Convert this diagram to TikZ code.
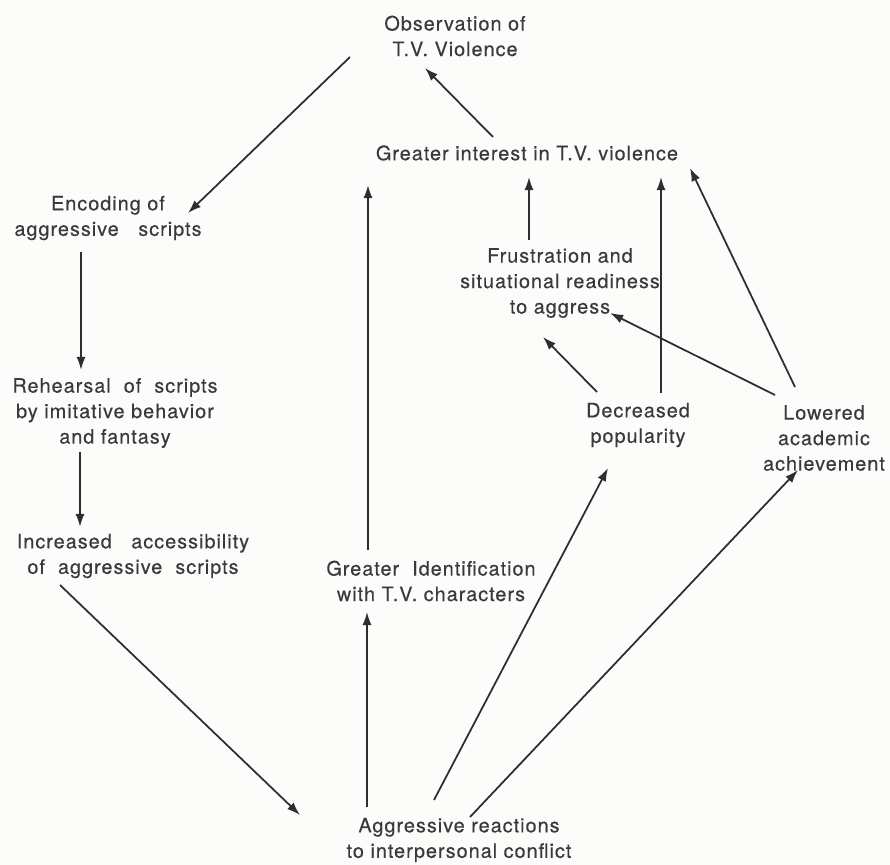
\documentclass[tikz,border=0pt]{standalone}
\usepackage{fontspec}
\setmainfont[LetterSpace=5,FakeBold=0.3]{TeX Gyre Heros}
\usetikzlibrary{arrows.meta}
\definecolor{ink}{HTML}{3A3A3A}
\definecolor{lineink}{HTML}{2E2E2E}
\definecolor{paper}{HTML}{FCFCFA}
\begin{document}
\begin{tikzpicture}[x=0.02cm,y=-0.02cm,
  lbl/.style={align=center, font=\fontsize{11.3}{14.5}\selectfont, text=ink, inner sep=0pt},
  arr/.style={draw=lineink, line width=1pt, -{Latex[length=7.5pt,width=5.2pt]}}]
\fill[paper] (0,0) rectangle (890,865);
\useasboundingbox (0,0) rectangle (890,865);
% nodes
\node[lbl] (obs) at (455,36) {Observation of\\T.V. Violence};
\node[lbl] (gi)  at (527,153) {Greater interest in T.V. violence};
\node[lbl] (enc) at (108,218) {Encoding of\\aggressive\ \ \ scripts};
\node[lbl] (fru) at (560,283) {Frustration and\\situational readiness\\to aggress};
\node[lbl] (reh) at (115,413) {Rehearsal\ \ of\ \ scripts\\by imitative behavior\\and fantasy};
\node[lbl] (dec) at (638,425) {Decreased\\popularity};
\node[lbl] (low) at (824,438) {Lowered\\academic\\achievement};
\node[lbl] (inc) at (133,556) {Increased\ \ \ accessibility\\of\ \ aggressive\ \ scripts};
\node[lbl] (gid) at (431,581) {Greater\ \ Identification\\with T.V. characters};
\node[lbl] (agg) at (459,840) {Aggressive reactions\\to interpersonal conflict};
% connectors
\draw[arr] ([shift={(350-455,57-36)}]obs.center) -- ([shift={(188-108,213-218)}]enc.center);
\draw[arr] ([shift={(493-527,137-153)}]gi.center) -- ([shift={(425-455,68-36)}]obs.center);
\draw[arr] ([shift={(81-108,252-218)}]enc.center) -- ([shift={(81-115,370-413)}]reh.center);
\draw[arr] ([shift={(80-115,452-413)}]reh.center) -- ([shift={(80-133,527-556)}]inc.center);
\draw[arr] ([shift={(60-133,585-556)}]inc.center) -- ([shift={(300-459,815-840)}]agg.center);
\draw[arr] ([shift={(367-459,807-840)}]agg.center) -- ([shift={(367-431,612-581)}]gid.center);
\draw[arr] ([shift={(368-431,550-581)}]gid.center) -- ([shift={(368-527,185-153)}]gi.center);
\draw[arr] ([shift={(529-560,240-283)}]fru.center) -- ([shift={(529-527,177-153)}]gi.center);
\draw[arr] ([shift={(661-638,393-425)}]dec.center) -- ([shift={(661-527,177-153)}]gi.center);
\draw[arr] ([shift={(795-824,387-438)}]low.center) -- ([shift={(690-527,168-153)}]gi.center);
\draw[arr] ([shift={(597-638,392-425)}]dec.center) -- ([shift={(543-560,337-283)}]fru.center);
\draw[arr] ([shift={(775-824,395-438)}]low.center) -- ([shift={(610-560,313-283)}]fru.center);
\draw[arr] ([shift={(434-459,800-840)}]agg.center) -- ([shift={(608-638,468-425)}]dec.center);
\draw[arr] ([shift={(470-459,817-840)}]agg.center) -- ([shift={(798-824,470-438)}]low.center);
\end{tikzpicture}
\end{document}
